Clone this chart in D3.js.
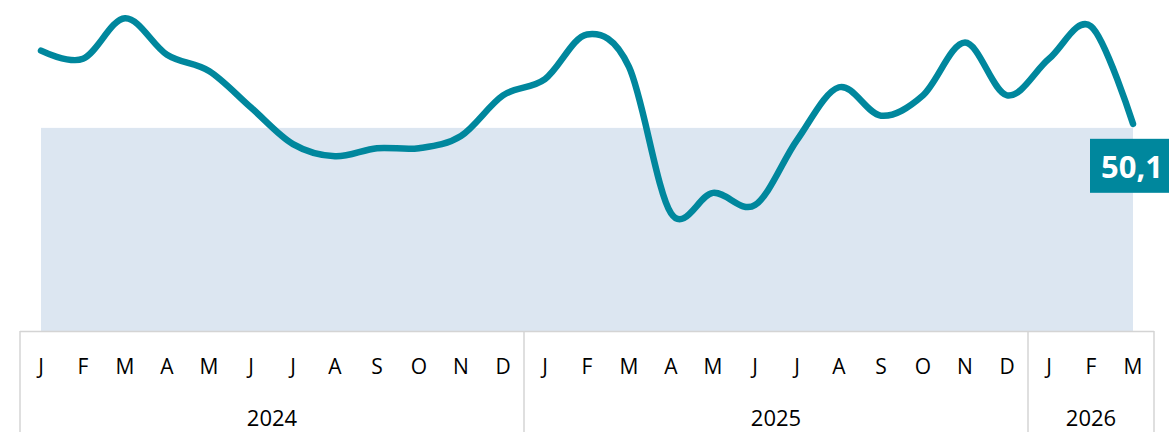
<script src="https://d3js.org/d3.v7.min.js"></script>
<style>
  body { margin: 0; background: #fff; }
  svg text { font-family: "Open Sans", sans-serif; fill: #000; }
</style>
<body>
<script>
  // monthly index, Jan 2024 - Mar 2026
  var months = ["J","F","M","A","M","J","J","A","S","O","N","D",
                "J","F","M","A","M","J","J","A","S","O","N","D",
                "J","F","M"];
  var years = ["2024", "2025", "2026"];
  var yearCounts = [12, 12, 3];
  var values = [51.9, 51.7, 52.7, 51.8, 51.4, 50.5, 49.6, 49.3, 49.5, 49.5, 49.8, 50.8,
                51.2, 52.3, 51.5, 47.9, 48.4, 48.1, 49.7, 51.0, 50.3, 50.8, 52.1, 50.8,
                51.7, 52.5, 50.1];
  var threshold = 50;
  var yMin = 45, yMax = 53;

  var width = 1169, height = 432;
  var teal = "#00879d";

  var svg = d3.select("body").append("svg")
    .attr("width", width)
    .attr("height", height);

  var x = d3.scaleBand()
    .domain(d3.range(months.length))
    .range([20, 1154])
    .padding(0);

  var y = d3.scaleLinear()
    .domain([yMin, yMax])
    .range([331, 6]);

  var cx = function(i) { return x(i) + x.bandwidth() / 2; };

  // shaded zone below 50
  svg.append("rect")
    .attr("x", cx(0))
    .attr("y", y(threshold))
    .attr("width", cx(values.length - 1) - cx(0))
    .attr("height", y(yMin) - y(threshold))
    .attr("fill", "#dce6f1");

  var line = d3.line()
    .x(function(d, i) { return cx(i); })
    .y(function(d) { return y(d); })
    .curve(d3.curveCatmullRom.alpha(0));

  svg.append("path")
    .datum(values)
    .attr("d", line)
    .attr("fill", "none")
    .attr("stroke", teal)
    .attr("stroke-width", 6.5)
    .attr("stroke-linecap", "round")
    .attr("stroke-linejoin", "round");

  // last value label
  var last = values[values.length - 1];
  var lx = cx(values.length - 1);
  var lg = svg.append("g");
  lg.append("rect")
    .attr("x", lx - 43)
    .attr("y", y(last) + 15)
    .attr("width", 80)
    .attr("height", 54)
    .attr("fill", teal);
  lg.append("text")
    .attr("x", lx - 1)
    .attr("y", y(last) + 54)
    .attr("text-anchor", "middle")
    .style("fill", "#fff")
    .style("font-weight", "bold")
    .style("font-size", "31px")
    .text(d3.format(".1f")(last).replace(".", ","));

  // category axis box
  var axisTop = 331;
  var gridColor = "#d4d4d4";
  svg.append("line")
    .attr("x1", x.range()[0]).attr("x2", x.range()[1])
    .attr("y1", axisTop + 0.5).attr("y2", axisTop + 0.5)
    .attr("stroke", gridColor).attr("stroke-width", 1.5);

  var start = 0;
  var bounds = [x(0)];
  yearCounts.forEach(function(n) {
    start += n;
    bounds.push(start < months.length ? x(start) : x.range()[1]);
  });
  svg.selectAll("line.sep")
    .data(bounds)
    .enter().append("line")
    .attr("class", "sep")
    .attr("x1", function(d) { return d; })
    .attr("x2", function(d) { return d; })
    .attr("y1", axisTop)
    .attr("y2", height)
    .attr("stroke", gridColor)
    .attr("stroke-width", 1.5);

  svg.selectAll("text.month")
    .data(months)
    .enter().append("text")
    .attr("class", "month")
    .attr("x", function(d, i) { return cx(i); })
    .attr("y", 374)
    .attr("text-anchor", "middle")
    .style("font-size", "21px")
    .text(function(d) { return d; });

  svg.selectAll("text.year")
    .data(years)
    .enter().append("text")
    .attr("class", "year")
    .attr("x", function(d, i) { return (bounds[i] + bounds[i + 1]) / 2; })
    .attr("y", 426)
    .attr("text-anchor", "middle")
    .style("font-size", "22px")
    .text(function(d) { return d; });
</script>
</body>
